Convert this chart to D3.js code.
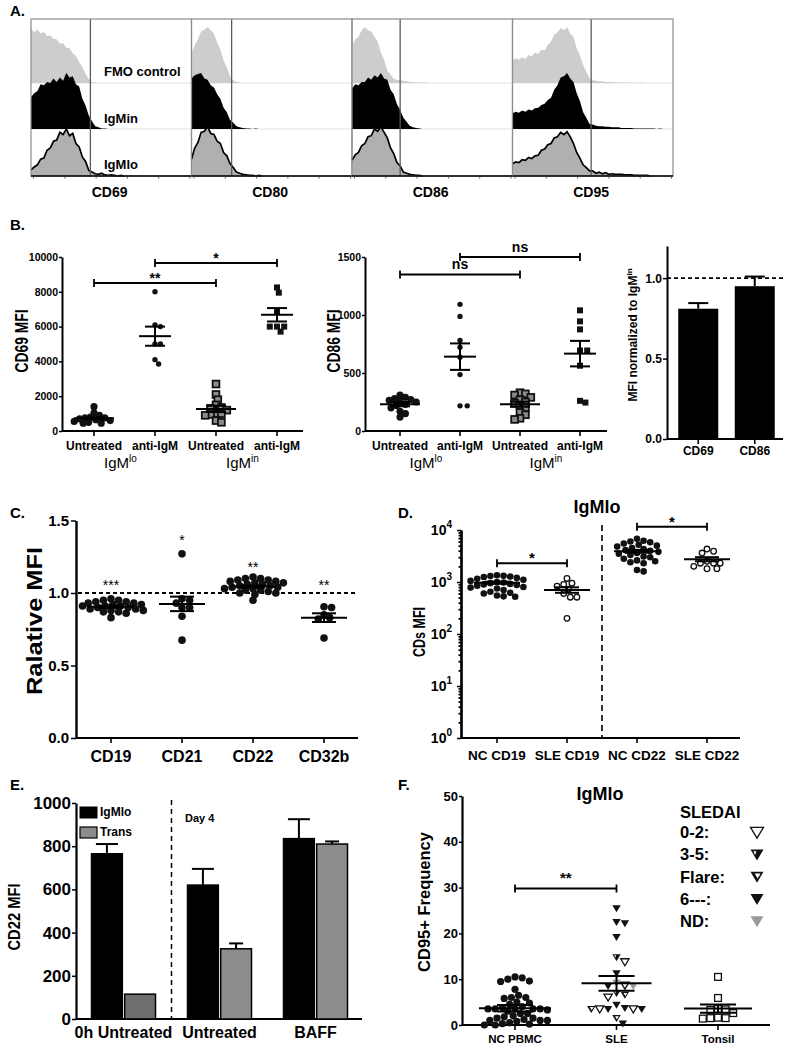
<!DOCTYPE html>
<html><head><meta charset="utf-8">
<script src="https://cdn.jsdelivr.net/npm/d3@7"></script>
<style>
body{margin:0;background:#fff;}
svg{display:block;font-family:"Liberation Sans",Arial,Helvetica,sans-serif;}
</style></head><body>
<svg id="chart" width="795" height="1050"></svg>
<script>
// ================= DATA =================
// Panel A: flow histograms (counts per channel bin, 0-100 scale)
const histMarkers = ["CD69","CD80","CD86","CD95"];
const histRowLabels = ["FMO control","IgMin","IgMlo"];
const histGateBins = [18.5, 12.5, 15, 24.5];
const fmoCD69 = [98,90,96,88,91,84,85,79,78,70,71,63,62,53,48,37,29,16,7,2,1];
const inCD69  = [57,64,68,80,78,84,82,90,84,92,86,100,92,94,80,76,54,42,24,14,5,3,1,1];
const loCD69  = [11,16,20,30,32,46,50,62,64,78,74,84,72,76,58,52,34,26,10,7,4,3,5,2,1,2,1,0,1];
const fmoCD80 = [52,68,78,92,95,100,94,88,72,60,40,28,12,5,2,1];
const inCD80  = [90,96,98,100,90,88,78,74,62,54,38,30,16,11,5,3,2,1,1,0,1];
const loCD80  = [30,50,60,78,80,88,76,74,62,58,42,36,22,15,7,5,3,2,1,1,0,1];
const fmoCD86 = [66,78,82,94,100,94,92,82,74,54,42,22,15,7,6,5,4,3,2,2,1,1,1,1];
const inCD86  = [72,80,78,84,84,92,88,96,92,100,90,88,70,62,44,34,20,13,6,3,2,1];
const loCD86  = [28,38,42,54,58,70,72,84,80,88,78,68,50,40,24,18,7,5,3,2,1,1];
const fmoCD95 = [40,44,42,46,43,50,48,54,52,60,58,68,74,86,90,98,94,100,88,82,62,50,32,20,8,5,4,3,3,2,2,2,1,1,1,1,1,0,1,0,1];
const inCD95  = [28,31,29,33,31,35,33,37,38,43,45,52,56,70,78,92,94,100,90,84,64,50,30,20,9,8,6,5,5,4,4,3,3,3,2,2,2,2,1,1,1,1,1,1,1,0,1];
const loCD95  = [22,25,24,29,28,33,31,36,37,46,48,56,58,68,70,78,74,79,70,58,42,32,20,15,9,9,5,7,4,6,3,4,3,3,3,2,2,2,1,1,1,1,1];

// Panel B
const bCatLabels = ["Untreated","anti-IgM","Untreated","anti-IgM"];
const cd69UntLo  = [1400,1050,900,800,750,750,700,650,600,550,500,450,450];
const cd69AntiLo = [8000,6100,6000,5000,5000,4100,3850];
const cd69UntIn  = [2700,2100,1800,1500,1350,1300,1200,1000,1000,950,900,600,500];
const cd69AntiIn = [8250,7950,6860,6000,6000,6000,5710];
const cd69Means = [735,5450,1270,6680];
const cd69Sems  = [60,550,180,385];
const cd86UntLo  = [310,290,280,270,265,260,250,230,220,200,170,150,120];
const cd86AntiLo = [1092,988,780,722,636,486,217,217];
const cd86UntIn  = [330,320,310,290,270,250,240,220,200,160,140,110,100];
const cd86AntiIn = [1040,945,876,694,694,563,260,245];
const cd86Means = [231,641,231,667];
const cd86Sems  = [18,114,22,110];
const normCats = ["CD69","CD86"];
const normVals = [0.81,0.95];
const normErrs = [0.035,0.06];

// Panel C
const cCats = ["CD19","CD21","CD22","CD32b"];
const cCD19 = [0.96,0.95,0.95,0.94,0.94,0.93,0.93,0.92,0.92,0.91,0.91,0.91,0.90,0.90,0.89,0.89,0.88,0.88,0.87,0.87,0.86,0.83];
const cCD21 = [1.27,0.96,0.95,0.93,0.90,0.90,0.84,0.675];
const cCD22 = [1.11,1.10,1.10,1.09,1.09,1.08,1.08,1.07,1.07,1.06,1.06,1.05,1.05,1.04,1.04,1.03,1.03,1.02,1.02,1.01,1.00,1.00,0.99,0.95];
const cCD32b = [0.905,0.90,0.85,0.83,0.82,0.69];
const cMeans = [0.905,0.925,1.045,0.83];
const cSems  = [0.008,0.05,0.008,0.03];
const cStars = ["***","*","**","**"];
const cStarAt = [1.02,1.33,1.145,1.02];

// Panel D
const dCats = ["NC CD19","SLE CD19","NC CD22","SLE CD22"];
const dNC19  = [1350,1320,1300,1280,1250,1200,1150,1100,1050,1000,980,950,920,900,880,850,800,780,750,700,650,620,600,550,530,520];
const dSLE19 = [1170,950,900,830,730,600,510,510,200];
const dNC22  = [6800,6200,6000,5800,5500,5200,5000,4800,4500,4300,4100,4000,3800,3600,3500,3300,3100,3000,2800,2600,2500,2400,2300,1700,1600];
const dSLE22 = [4300,3900,3600,2500,2300,2300,2300,2000,1800,1800];
const dMeans = [970,705,3900,2750];
const dSems  = [45,85,250,250];

// Panel E
const eGroups = ["0h Untreated","Untreated","BAFF"];
const eSeries = ["IgMlo","Trans"];
const eIgMlo = [765,620,835];
const eIgMloErr = [45,75,90];
const eTrans = [115,325,810];
const eTransErr = [0,25,12];

// Panel F
const fCats = ["NC PBMC","SLE","Tonsil"];
const fNC = [10.5,10.3,10,9.6,9.5,7.8,1.5,6.5,6,6,5.8,5,4.8,4.5,4,3.8,3.5,3.5,3.5,3.5,3.5,3.3,3,2.5,2.5,2,1.8,1.5,1.2,1,1,1,0.8,0.5,0.3,0.2,0,0];
const fSLE = [25.5,22.5,22.2,19.2,14.8,13.8,11.3,9.2,8.7,8.5,8.5,7,6.1,6.6,4.4,3.5,3.5,3.5,3.5,3.5,3.7,1.5,0.3];
const fSLEType = ["6","6","6","6","3-5","0-2","6","ND","0-2","6","ND","3-5","0-2","Flare","6","6","0-2","0-2","6","Flare","6","Flare","6"];
const fTonsil = [10.5,5.9,3.4,3.3,3.5,2.6,1.5,1.4,1.6,1.5];
const fMeans = [3.65,9.1,3.6];
const fSems  = [0.7,1.6,0.9];
const sledaiLabels = ["0-2:","3-5:","Flare:","6---:","ND:"];
const sledaiTypes = ["0-2","3-5","Flare","6","ND"];

// ================= HELPERS =================
const svg = d3.select("#chart");
const FONT = '"Liberation Sans", Arial, Helvetica, sans-serif';

function txt(g, x, y, s, o = {}) {
  const t = g.append("text").attr("x", x).attr("y", y).text(s)
    .attr("font-size", o.size || 12).attr("font-weight", o.weight || "bold")
    .attr("text-anchor", o.anchor || "start").attr("fill", o.fill || "#000")
    .attr("font-family", FONT);
  if (o.len) t.attr("textLength", o.len).attr("lengthAdjust", "spacingAndGlyphs");
  if (o.rot) t.attr("transform", `rotate(-90,${x},${y})`);
  return t;
}
function line(g, x1, y1, x2, y2, w = 2, dash = null, col = "#000") {
  const l = g.append("line").attr("x1", x1).attr("y1", y1).attr("x2", x2).attr("y2", y2)
    .attr("stroke", col).attr("stroke-width", w);
  if (dash) l.attr("stroke-dasharray", dash);
  return l;
}
function styleAxis(g, size, w = 2) {
  g.selectAll("path.domain").attr("stroke", "#000").attr("stroke-width", w);
  g.selectAll(".tick line").attr("stroke", "#000").attr("stroke-width", 1.5);
  g.selectAll(".tick text").attr("font-size", size).attr("font-weight", "bold")
    .attr("font-family", FONT).attr("fill", "#000");
}
function swarm(values, yS, cx, r, overlap) {
  const pts = values.map((v, i) => ({ v, i, y: yS(v) }));
  const order = pts.slice().sort((a, b) => b.v - a.v);
  const placed = [];
  const minD = 2 * r * overlap;
  order.forEach(p => {
    let best = cx;
    for (let k = 0; k < 300; k++) {
      const off = k === 0 ? 0 : (k % 2 ? 1 : -1) * Math.ceil(k / 2) * r * 0.5;
      const x = cx + off;
      if (placed.every(q => Math.hypot(q.x - x, q.y - p.y) >= minD)) { best = x; break; }
    }
    p.x = best; placed.push(p);
  });
  return pts;
}
function triPath(x, y, s) {
  return `M${x - s},${y - s * 0.72}L${x + s},${y - s * 0.72}L${x},${y + s * 0.95}Z`;
}
function marker(g, shape, x, y, s) {
  switch (shape) {
    case "dot": g.append("circle").attr("cx", x).attr("cy", y).attr("r", s).attr("fill", "#111"); break;
    case "ring": g.append("circle").attr("cx", x).attr("cy", y).attr("r", s).attr("fill", "#fff").attr("stroke", "#111").attr("stroke-width", 1.3); break;
    case "sqOut": g.append("rect").attr("x", x - s).attr("y", y - s).attr("width", 2 * s).attr("height", 2 * s).attr("fill", "#8c8c8c").attr("stroke", "#111").attr("stroke-width", 1.8); break;
    case "sq": g.append("rect").attr("x", x - s).attr("y", y - s).attr("width", 2 * s).attr("height", 2 * s).attr("fill", "#111"); break;
    case "sqOpen": g.append("rect").attr("x", x - s).attr("y", y - s).attr("width", 2 * s).attr("height", 2 * s).attr("fill", "#fff").attr("stroke", "#111").attr("stroke-width", 1.3); break;
    case "0-2": g.append("path").attr("d", triPath(x, y, s)).attr("fill", "#fff").attr("stroke", "#111").attr("stroke-width", 1.3); break;
    case "3-5":
      g.append("path").attr("d", triPath(x, y, s)).attr("fill", "#111");
      g.append("path").attr("d", `M${x - s * 0.55},${y - s * 0.45}L${x - s * 0.1},${y - s * 0.45}L${x - s * 0.3},${y + s * 0.15}Z`).attr("fill", "#fff");
      break;
    case "Flare":
      g.append("path").attr("d", triPath(x, y, s)).attr("fill", "#111");
      g.append("path").attr("d", triPath(x + s * 0.1, y - s * 0.12, s * 0.45)).attr("fill", "#fff");
      break;
    case "6": g.append("path").attr("d", triPath(x, y, s)).attr("fill", "#111"); break;
    case "ND": g.append("path").attr("d", triPath(x, y, s)).attr("fill", "#9a9a9a"); break;
  }
}
function meanSem(g, cx, yS, m, se, wm, ws) {
  line(g, cx - wm, yS(m), cx + wm, yS(m), 2);
  line(g, cx - ws, yS(m + se), cx + ws, yS(m + se), 2);
  line(g, cx - ws, yS(m - se), cx + ws, yS(m - se), 2);
  line(g, cx, yS(m + se), cx, yS(m - se), 2);
}
function sigBar(g, x1, x2, y, label, size, dy) {
  line(g, x1, y, x2, y, 2);
  line(g, x1, y - 4, x1, y + 4, 1.8);
  line(g, x2, y - 4, x2, y + 4, 1.8);
  txt(g, (x1 + x2) / 2, y - dy, label, { size, anchor: "middle" });
}
function xAxisLine(g, x1, x2, y, ticks) {
  line(g, x1, y, x2, y, 2);
  ticks.forEach(t => line(g, t, y, t, y + 5, 1.6));
}

// ================= PANEL LABELS =================
[["A.", 10, 16], ["B.", 10, 230], ["C.", 10, 518], ["D.", 398, 518], ["E.", 10, 790], ["F.", 398, 790]]
  .forEach(([s, x, y]) => txt(svg, x, y, s, { size: 15 }));

// ================= PANEL A =================
(function () {
  const g = svg.append("g");
  const fmo = [fmoCD69, fmoCD80, fmoCD86, fmoCD95];
  const inn = [inCD69, inCD80, inCD86, inCD95];
  const lo = [loCD69, loCD80, loCD86, loCD95];
  const aX = d3.scaleBand().domain(histMarkers).range([31, 673]);
  const bw = aX.bandwidth();
  const aBin = d3.scaleLinear().domain([0, 50]).range([0, bw]);
  const aH = d3.scaleLinear().domain([0, 100]).range([0, 56]);
  const top = 19, bottom = 176;
  const rowBase = d3.scaleOrdinal().domain(histRowLabels).range([83, 129, 176]);
  histMarkers.forEach((m, mi) => {
    const x0 = aX(m);
    const pg = g.append("g");
    line(pg, x0, rowBase("FMO control"), x0 + bw, rowBase("FMO control"), 1, null, "#e2e2e2");
    line(pg, x0, rowBase("IgMin"), x0 + bw, rowBase("IgMin"), 1, null, "#e2e2e2");
    const curves = [fmo[mi], inn[mi], lo[mi]];
    const fills = ["#cdcdcd", "#000", "#b0b0b0"];
    curves.forEach((c, ri) => {
      const base = rowBase(histRowLabels[ri]);
      const data = c.concat([0]);
      const area = d3.area().x((d, i) => x0 + aBin(i)).y0(base).y1(d => base - aH(d));
      pg.append("path").attr("d", area(data)).attr("fill", fills[ri]);
      if (ri === 2) {
        const ln = d3.line().x((d, i) => x0 + aBin(i)).y(d => base - aH(d));
        pg.append("path").attr("d", ln(data)).attr("fill", "none").attr("stroke", "#000").attr("stroke-width", 1.7);
      }
    });
    const gx = x0 + aBin(histGateBins[mi]);
    line(pg, gx, top, gx, bottom, 1.3, null, "#5a5a5a");
    pg.append("rect").attr("x", x0).attr("y", top).attr("width", bw).attr("height", bottom - top)
      .attr("fill", "none").attr("stroke", "#8c8c8c").attr("stroke-width", 1.2);
    line(pg, x0, bottom, x0 + bw, bottom, 1.6);
    const lx = d3.scaleLog().domain([1, 1e5]).range([x0 + 2, x0 + bw - 2]);
    const ax = pg.append("g").attr("transform", `translate(0,${bottom})`)
      .call(d3.axisBottom(lx).ticks(5).tickSize(2.5).tickFormat(""));
    ax.select("path.domain").remove();
    ax.selectAll(".tick line").attr("stroke", "#333").attr("stroke-width", 0.8);
    txt(pg, x0 + bw * 0.49, 197, m, { size: 14, anchor: "middle" });
  });
  const x0 = aX("CD69");
  txt(g, x0 + 73, 76, "FMO control", { size: 13 });
  txt(g, x0 + 73, 123, "IgMin", { size: 13 });
  txt(g, x0 + 73, 169, "IgMlo", { size: 13 });
})();

// ================= PANEL B =================
function dotPanelB(cfg) {
  const g = svg.append("g");
  const y = d3.scaleLinear().domain(cfg.domain).range([431, 257]);
  const x = d3.scalePoint().domain([0, 1, 2, 3]).range(cfg.xr);
  const ax = g.append("g").attr("transform", `translate(${cfg.axX},0)`)
    .call(d3.axisLeft(y).tickValues(cfg.ticks).tickSize(3).tickSizeOuter(0).tickPadding(1).tickFormat(d3.format("d")));
  styleAxis(ax, 10.5);
  xAxisLine(g, cfg.axX, cfg.axEnd, 431, [0, 1, 2, 3].map(x));
  bCatLabels.forEach((c, i) => txt(g, x(i), 450, c, { size: 12, anchor: "middle" }));
  [["lo", 0, 1], ["in", 2, 3]].forEach(([sup, a, b]) => {
    const t = txt(g, (x(a) + x(b)) / 2 - 4, 468, "IgM", { size: 15, weight: "normal", anchor: "middle" });
    t.append("tspan").text(sup).attr("font-size", 10).attr("dy", -6);
  });
  txt(g, cfg.labX, 341, cfg.label, { size: 18, anchor: "middle", rot: true, len: 63 });
  const shapes = ["dot", "dot", "sqOut", "sq"];
  const sizes = [3.6, 2.7, 3.4, 3.0];
  cfg.sets.forEach((vals, i) => {
    const pts = swarm(vals, y, x(i), 3.6, 0.75);
    pts.forEach(p => marker(g, shapes[i], p.x, p.y, sizes[i]));
    meanSem(g, x(i), y, cfg.means[i], cfg.sems[i], i % 2 ? 16 : 20, 10);
  });
  cfg.sig.forEach(([a, b, v, lab, dy]) => sigBar(g, x(a), x(b), y(v), lab, 14, dy));
}
dotPanelB({
  domain: [0, 10000], ticks: [0, 2000, 4000, 6000, 8000, 10000], xr: [94, 277], axX: 62, axEnd: 303,
  label: "CD69 MFI", labX: 28, sets: [cd69UntLo, cd69AntiLo, cd69UntIn, cd69AntiIn],
  means: cd69Means, sems: cd69Sems, sig: [[0, 2, 8500, "**", 0], [1, 3, 9650, "*", 0]]
});
dotPanelB({
  domain: [0, 1500], ticks: [0, 500, 1000, 1500], xr: [400, 580], axX: 365, axEnd: 607,
  label: "CD86 MFI", labX: 340, sets: [cd86UntLo, cd86AntiLo, cd86UntIn, cd86AntiIn],
  means: cd86Means, sems: cd86Sems, sig: [[0, 2, 1350, "ns", 5], [1, 3, 1500, "ns", 5]]
});

// B3 bar chart
(function () {
  const g = svg.append("g");
  const y = d3.scaleLinear().domain([0, 1.2]).range([439, 246]);
  const x = d3.scaleBand().domain(normCats).range([667, 786]).paddingInner(0.292).paddingOuter(0.199);
  const ax = g.append("g").attr("transform", "translate(667,0)")
    .call(d3.axisLeft(y).tickValues([0, 0.5, 1.0]).tickSize(4).tickSizeOuter(0).tickPadding(1).tickFormat(d3.format(".1f")));
  styleAxis(ax, 12);
  line(g, 667, 439, 783, 439, 2.2);
  normCats.forEach((c, i) => {
    const bx = x(c), w = x.bandwidth(), cx = bx + w / 2;
    line(g, cx, y(normVals[i]), cx, y(normVals[i] + normErrs[i]), 2);
    line(g, cx - 10, y(normVals[i] + normErrs[i]), cx + 10, y(normVals[i] + normErrs[i]), 2);
    g.append("rect").attr("x", bx).attr("y", y(normVals[i])).attr("width", w).attr("height", y(0) - y(normVals[i])).attr("fill", "#000");
    line(g, cx, 439, cx, 444, 1.6);
    txt(g, cx, 455, c, { size: 12, anchor: "middle" });
  });
  line(g, 667, y(1), 783, y(1), 1.6, "4,3");
  const t = txt(g, 637, 335, "MFI normalized to IgM", { size: 12, anchor: "middle", rot: true });
  t.append("tspan").text("in").attr("font-size", 8).attr("dy", -5);
})();

// ================= PANEL C =================
(function () {
  const g = svg.append("g");
  const y = d3.scaleLinear().domain([0, 1.5]).range([738, 520.5]);
  const x = d3.scalePoint().domain(cCats).range([111, 324]);
  const ax = g.append("g").attr("transform", "translate(76,0)")
    .call(d3.axisLeft(y).tickValues([0, 0.5, 1.0, 1.5]).tickSize(5).tickSizeOuter(0).tickPadding(2).tickFormat(d3.format(".1f")));
  styleAxis(ax, 15, 2.4);
  xAxisLine(g, 76, 358, 738, cCats.map(x));
  cCats.forEach(c => txt(g, x(c), 762, c, { size: 16, anchor: "middle" }));
  line(g, 78, y(1), 358, y(1), 1.8, "4,3");
  txt(g, 42, 621, "Ralative MFI", { size: 22, anchor: "middle", rot: true, len: 148 });
  [cCD19, cCD21, cCD22, cCD32b].forEach((vals, i) => {
    const cx = x(cCats[i]);
    swarm(vals, y, cx, 3.8, 0.8).forEach(p => marker(g, "dot", p.x, p.y, 3.8));
    meanSem(g, cx, y, cMeans[i], cSems[i], 23, 12);
    txt(g, cx, y(cStarAt[i]), cStars[i], { size: 14, anchor: "middle", weight: "normal" });
  });
})();

// ================= PANEL D =================
(function () {
  const g = svg.append("g");
  const y = d3.scaleLog().domain([1, 1e4]).range([738, 530]);
  const x = d3.scalePoint().domain(dCats).range([497, 707]);
  const minor = [];
  [1, 10, 100, 1000].forEach(d => [2, 3, 4, 5, 6, 7, 8, 9].forEach(k => minor.push(d * k)));
  const axm = g.append("g").attr("transform", "translate(461,0)")
    .call(d3.axisLeft(y).tickValues(minor).tickSize(2.5).tickSizeOuter(0).tickFormat(""));
  styleAxis(axm, 12, 2.2);
  axm.selectAll(".tick line").attr("stroke-width", 1.8);
  const axM = g.append("g").attr("transform", "translate(461,0)")
    .call(d3.axisLeft(y).tickValues([1, 10, 100, 1000, 10000]).tickSize(4).tickSizeOuter(0).tickFormat(""));
  styleAxis(axM, 12, 2.2);
  [0, 1, 2, 3, 4].forEach(e => {
    const t = txt(g, 452, y(Math.pow(10, e)) + 5, "10", { size: 14, anchor: "end" });
    t.append("tspan").text(e).attr("font-size", 10).attr("dy", -7);
  });
  xAxisLine(g, 461, 740, 738, dCats.map(x));
  dCats.forEach(c => txt(g, x(c), 760, c, { size: 13.5, anchor: "middle" }));
  const midX = (x(dCats[1]) + x(dCats[2])) / 2;
  line(g, midX, 525, midX, 738, 1.6, "6,4");
  txt(g, 425, 632, "CDs MFI", { size: 16, anchor: "middle", rot: true, len: 50 });
  txt(g, 597, 513, "IgMlo", { size: 18, anchor: "middle" });
  const shapes = ["dot", "ring", "dot", "ring"];
  [dNC19, dSLE19, dNC22, dSLE22].forEach((vals, i) => {
    const cx = x(dCats[i]);
    swarm(vals, y, cx, 3.3, 0.95).forEach(p => marker(g, shapes[i], p.x, p.y, shapes[i] === "ring" ? 2.8 : 3.3));
    meanSem(g, cx, y, dMeans[i], dSems[i], 23, 12);
  });
  sigBar(g, x(dCats[0]), x(dCats[1]), y(2300), "*", 15, 0);
  sigBar(g, x(dCats[2]), x(dCats[3]), y(11500), "*", 15, 0);
})();

// ================= PANEL E =================
(function () {
  const g = svg.append("g");
  const y = d3.scaleLinear().domain([0, 1000]).range([1019, 803]);
  const x = d3.scaleBand().domain(eGroups).range([75.5, 363.5]).paddingInner(1 / 3).paddingOuter(1 / 6);
  const xs = d3.scaleBand().domain(eSeries).range([0, x.bandwidth()]).paddingInner(0.07);
  const ax = g.append("g").attr("transform", "translate(76,0)")
    .call(d3.axisLeft(y).tickValues([0, 200, 400, 600, 800, 1000]).tickSize(4).tickSizeOuter(0).tickPadding(1).tickFormat(d3.format("d")));
  styleAxis(ax, 17, 2.2);
  line(g, 76, 1019, 362, 1019, 2.2);
  eGroups.forEach((grp, i) => {
    [[eIgMlo, eIgMloErr, "#000"], [eTrans, eTransErr, i === 0 ? "#6e6e6e" : "#8c8c8c"]].forEach(([vals, errs, col], si) => {
      const bx = x(grp) + xs(eSeries[si]), w = xs.bandwidth(), cx = bx + w / 2;
      if (errs[i] > 0) {
        line(g, cx, y(vals[i]), cx, y(vals[i] + errs[i]), 2);
        const cw = si === 0 ? 11 : 7;
        line(g, cx - cw, y(vals[i] + errs[i]), cx + cw, y(vals[i] + errs[i]), 2);
      }
      g.append("rect").attr("x", bx).attr("y", y(vals[i])).attr("width", w).attr("height", y(0) - y(vals[i]))
        .attr("fill", col).attr("stroke", "#000").attr("stroke-width", 1.5);
    });
    txt(g, x(grp) + x.bandwidth() / 2, 1038, grp, { size: 16, anchor: "middle" });
  });
  const dX = x(eGroups[1]) - x.step() * x.paddingInner() / 2;
  line(g, dX, 800, dX, 1019, 1.5, "5,4");
  txt(g, 185, 822, "Day 4", { size: 11 });
  g.append("rect").attr("x", 80).attr("y", 807).attr("width", 17).attr("height", 11).attr("fill", "#000").attr("stroke", "#000");
  g.append("rect").attr("x", 80).attr("y", 827).attr("width", 17).attr("height", 11).attr("fill", "#8c8c8c").attr("stroke", "#000").attr("stroke-width", 1.2);
  txt(g, 100, 816, eSeries[0], { size: 12 });
  txt(g, 100, 836, eSeries[1], { size: 12 });
  txt(g, 20, 917, "CD22 MFI", { size: 16, anchor: "middle", rot: true, len: 67 });
})();

// ================= PANEL F =================
(function () {
  const g = svg.append("g");
  const y = d3.scaleLinear().domain([0, 50]).range([1025, 796]);
  const x = d3.scalePoint().domain(fCats).range([515, 718]);
  const ax = g.append("g").attr("transform", "translate(462,0)")
    .call(d3.axisLeft(y).tickValues([0, 10, 20, 30, 40, 50]).tickSize(3).tickSizeOuter(0).tickPadding(1).tickFormat(d3.format("d")));
  styleAxis(ax, 13, 2.2);
  xAxisLine(g, 462, 770, 1025, fCats.map(x));
  fCats.forEach(c => txt(g, x(c), 1043, c, { size: 11.5, anchor: "middle" }));
  txt(g, 430, 902, "CD95+ Frequency", { size: 16.5, anchor: "middle", rot: true });
  txt(g, 600, 800, "IgMlo", { size: 18, anchor: "middle" });
  swarm(fNC, y, x("NC PBMC"), 3.6, 0.9).forEach(p => marker(g, "dot", p.x, p.y, 3.6));
  meanSem(g, x("NC PBMC"), y, fMeans[0], fSems[0], 36, 18);
  swarm(fSLE, y, x("SLE"), 4.2, 0.95).forEach(p => marker(g, fSLEType[p.i], p.x, p.y, 4.2));
  meanSem(g, x("SLE"), y, fMeans[1], fSems[1], 35, 18);
  swarm(fTonsil, y, x("Tonsil"), 3.8, 1.0).forEach(p => marker(g, "sqOpen", p.x, p.y, 3.4));
  meanSem(g, x("Tonsil"), y, fMeans[2], fSems[2], 34, 18);
  sigBar(g, x("NC PBMC"), x("SLE"), y(29.8), "**", 15, 6);
  txt(g, 680, 818, "SLEDAI", { size: 16.5 });
  const ly = d3.scalePoint().domain(sledaiLabels).range([833, 922]);
  sledaiLabels.forEach((l, i) => {
    txt(g, 680, ly(l) + 5, l, { size: 16.5 });
    marker(g, sledaiTypes[i], 757, ly(l) - 1, 6.5);
  });
})();
</script>
</body></html>
